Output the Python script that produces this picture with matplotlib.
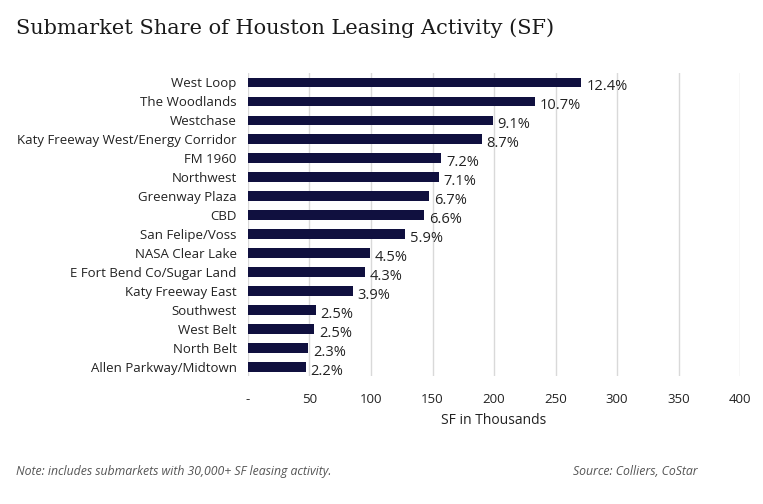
import matplotlib.pyplot as plt
import numpy as np

# Submarket leasing (SF in thousands), top to bottom
submarkets = ['West Loop', 'The Woodlands', 'Westchase', 'Katy Freeway West/Energy Corridor',
              'FM 1960', 'Northwest', 'Greenway Plaza', 'CBD', 'San Felipe/Voss',
              'NASA Clear Lake', 'E Fort Bend Co/Sugar Land', 'Katy Freeway East',
              'Southwest', 'West Belt', 'North Belt', 'Allen Parkway/Midtown']
sf_thousands = [271, 233, 199, 190, 157, 155, 147, 143, 128, 99, 95, 85, 55, 54, 49, 47]
share_labels = ['12.4%', '10.7%', '9.1%', '8.7%', '7.2%', '7.1%', '6.7%', '6.6%', '5.9%',
                '4.5%', '4.3%', '3.9%', '2.5%', '2.5%', '2.3%', '2.2%']
xticks = [0, 50, 100, 150, 200, 250, 300, 350, 400]
xtick_labels = ['-', '50', '100', '150', '200', '250', '300', '350', '400']

plt.rcParams['font.family'] = ['Open Sans', 'DejaVu Sans']

fig = plt.figure(figsize=(7.63, 5.04), dpi=100)
ax = fig.add_axes([0.325, 0.253, 0.645, 0.603])

y = np.arange(len(submarkets))
ax.barh(y, sf_thousands, height=0.48, color='#10103f', zorder=3)

for yi, v, lab in zip(y, sf_thousands, share_labels):
    ax.text(v + 4, yi + 0.22, lab, va='center', ha='left', fontsize=10.5, color='#222222')

ax.set_ylim(len(submarkets) - 0.5, -0.5)
ax.set_xlim(0, 400)
ax.set_yticks(y)
ax.set_yticklabels(submarkets, fontsize=9.5, color='#222222')
ax.set_xticks(xticks)
ax.set_xticklabels(xtick_labels, fontsize=9.5, color='#222222')
ax.tick_params(length=0, pad=8)
ax.tick_params(axis='x', pad=12)
ax.grid(axis='x', color='#d9d9d9', linewidth=1, zorder=0)
for s in ax.spines.values():
    s.set_visible(False)
ax.set_xlabel('SF in Thousands', fontsize=10, color='#222222', labelpad=5)

fig.text(0.021, 0.945, 'Submarket Share of Houston Leasing Activity (SF)',
         fontsize=15, family='DejaVu Serif', color='#1a1a1a', va='center')
fig.text(0.021, 0.065, 'Note: includes submarkets with 30,000+ SF leasing activity.',
         fontsize=8.8, style='italic', color='#555555', va='center')
fig.text(0.751, 0.065, 'Source: Colliers, CoStar',
         fontsize=8.8, style='italic', color='#555555', va='center')

fig.savefig('out.png', dpi=100)
